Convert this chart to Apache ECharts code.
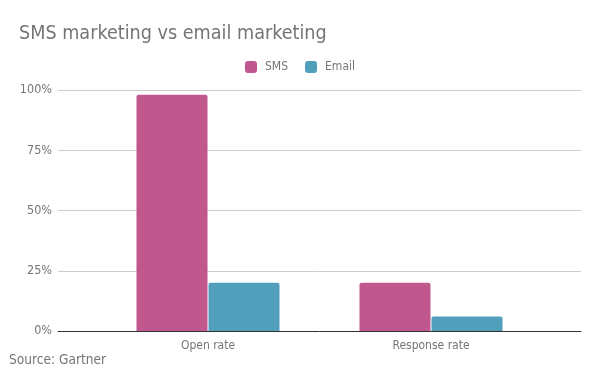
<!DOCTYPE html>
<html><head><meta charset="utf-8">
<script src="https://cdn.jsdelivr.net/npm/echarts@6/dist/echarts.min.js"></script>
<style>html,body{margin:0;padding:0;background:#fff}#c{width:600px;height:371px}</style>
</head><body><div id="c"></div>
<script>
const categories = ['Open rate', 'Response rate'];
const smsValues = [98, 20];
const emailValues = [20, 6];
const yTicks = [0, 25, 50, 75, 100];

const FONT = '"DejaVu Sans Condensed", "Liberation Sans", sans-serif';
const GRAY = '#757575';
const chart = echarts.init(document.getElementById('c'));
chart.setOption({
  animation: false,
  textStyle: { fontFamily: FONT },
  title: [
    { text: 'SMS marketing vs email marketing', left: 14, top: 19,
      textStyle: { fontSize: 19.6, fontWeight: 'normal', color: GRAY, fontFamily: FONT } },
    { text: 'Source: Gartner', left: 4, top: 348,
      textStyle: { fontSize: 13.6, fontWeight: 'normal', color: GRAY, fontFamily: FONT } }
  ],
  legend: {
    top: 56, left: 'center', itemWidth: 12, itemHeight: 12, itemGap: 17,
    icon: 'roundRect',
    textStyle: { color: GRAY, fontSize: 12, fontFamily: FONT, padding: [0, 0, 0, 3] },
    data: ['SMS', 'Email']
  },
  grid: [
    { left: 58, right: 19, top: 90, bottom: 40 },
    { left: 96.5, right: 57.5, top: 90, bottom: 40 }
  ],
  xAxis: [
    { type: 'category', gridIndex: 0, data: [''],
      axisLine: { lineStyle: { color: '#333', width: 1 } },
      axisTick: { show: false }, axisLabel: { show: false } },
    { type: 'category', gridIndex: 1, data: categories,
      axisLine: { show: false }, axisTick: { show: false },
      axisLabel: { color: GRAY, fontSize: 12, margin: 9, fontFamily: FONT } }
  ],
  yAxis: [
    { type: 'value', gridIndex: 0, min: yTicks[0], max: yTicks[yTicks.length - 1], interval: 25,
      axisLine: { show: false }, axisTick: { show: false },
      axisLabel: { formatter: '{value}%', color: GRAY, fontSize: 12.5, margin: 6, fontFamily: FONT },
      splitLine: { lineStyle: { color: '#cccccc', width: 1 } } },
    { type: 'value', gridIndex: 1, min: 0, max: 100, show: false, splitLine: { show: false } }
  ],
  series: [
    { name: 'SMS', type: 'bar', xAxisIndex: 1, yAxisIndex: 1, data: smsValues,
      barWidth: 71, barGap: '1.4%',
      itemStyle: { color: '#c0578d', borderRadius: [2, 2, 0, 0] } },
    { name: 'Email', type: 'bar', xAxisIndex: 1, yAxisIndex: 1, data: emailValues,
      barWidth: 71, barGap: '1.4%',
      itemStyle: { color: '#529fbb', borderRadius: [2, 2, 0, 0] } }
  ]
});
</script></body></html>
